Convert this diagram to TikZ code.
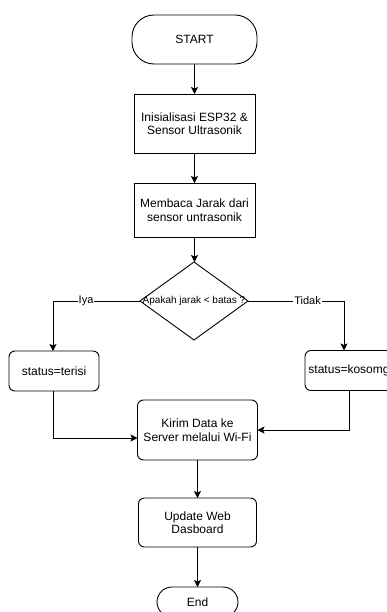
\documentclass[tikz,border=0pt]{standalone}
\usepackage{fontspec}
\setmainfont{Liberation Sans}
\usetikzlibrary{shapes.geometric,arrows.meta}
\begin{document}
\begin{tikzpicture}[x=1pt,y=-1pt,
  every node/.style={inner sep=0pt,outer sep=0pt,font=\fontsize{12}{13.5}\selectfont,align=center},
  terminal/.style={draw,line width=0.9pt,rounded corners=#1},
  procbox/.style={draw,line width=0.9pt},
  roundbox/.style={draw,line width=0.9pt,rounded corners=6pt},
  decision/.style={draw,line width=0.9pt,diamond},
  conn/.style={line width=0.9pt,-{Stealth[length=7pt,width=7pt,inset=1.5pt]}},
  lbl/.style={fill=white,font=\fontsize{11}{12}\selectfont,inner sep=1pt}
]
\useasboundingbox (0,0) rectangle (387,612);
\clip (0,0) rectangle (387,612);
\fill[white] (0,0) rectangle (387,612);

\node[terminal=22pt,minimum width=125pt,minimum height=49pt] (start) at (194.5,39.5) {START};
\node[procbox,minimum width=121pt,minimum height=59pt] (init) at (194.5,123.5) {Inisialisasi ESP32 \&\\Sensor Ultrasonik};
\node[procbox,minimum width=121pt,minimum height=54pt] (baca) at (194.5,210) {Membaca Jarak dari\\sensor untrasonik};
\node[decision,minimum width=108pt,minimum height=78pt] (dec) at (194,301) {};
\node[font=\fontsize{10}{11}\selectfont] (dtext) at (194,301) {Apakah jarak < batas ?};
\node[roundbox,minimum width=90pt,minimum height=40pt] (isi) at (54,371) {status=terisi};
\node[roundbox,minimum width=88pt,minimum height=40pt] (kosong) at (349,370.5) {status=kosomg};
\node[roundbox,minimum width=120pt,minimum height=60pt] (kirim) at (197.5,430) {Kirim Data ke\\Server melalui Wi-Fi};
\node[roundbox,minimum width=118pt,minimum height=49pt] (upd) at (197.5,522.5) {Update Web\\Dasboard};
\node[terminal=15pt,minimum width=81pt,minimum height=30pt] (end) at (197.5,602) {End};

\draw[conn] (start) -- (init);
\draw[conn] (init) -- (baca);
\draw[conn] (baca.south) -- (baca.south |- dec.north);
\draw[conn] (dec.west) -| node[lbl,pos=0.31] {Iya} ([xshift=-1pt]isi.north);
\draw[conn] (dec.east) -| node[lbl,pos=0.31] {Tidak} ([xshift=-5pt]kosong.north);
\draw[conn] ([xshift=-1pt]isi.south) |- ([yshift=-8pt]kirim.west);
\draw[conn] (kosong.south) |- (kirim.east);
\draw[conn] (kirim.south) -- (upd.north);
\draw[conn] (upd.south) -- (end.north);
\end{tikzpicture}
\end{document}
